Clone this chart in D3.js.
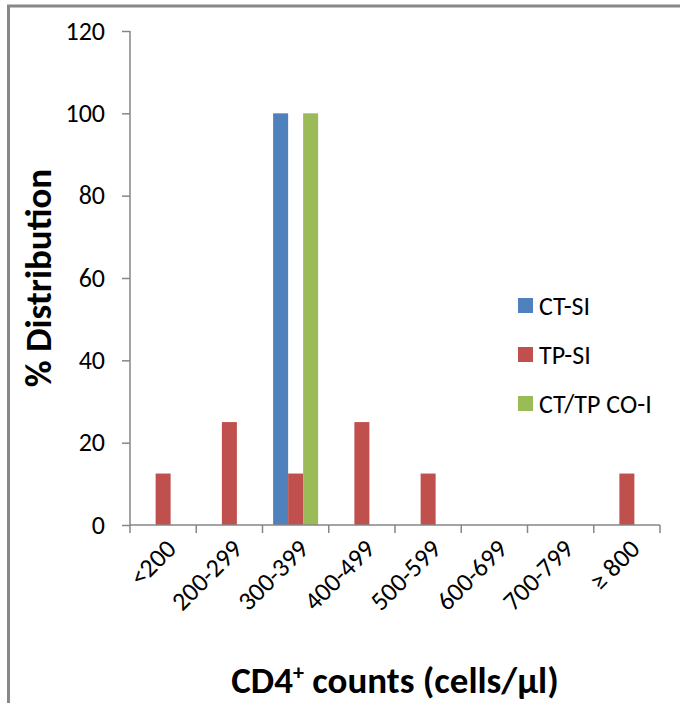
<!DOCTYPE html>
<html>
<head>
<meta charset="utf-8">
<script src="https://cdn.jsdelivr.net/npm/d3@7/dist/d3.min.js"></script>
<style>
  html, body { margin: 0; padding: 0; background: #fff; }
  svg { display: block; }
  text { font-family: Carlito, Calibri, "Open Sans", sans-serif; fill: #000; }
</style>
</head>
<body>
<svg id="chart" width="680" height="703"></svg>
<script>
const categories = ["<200", "200-299", "300-399", "400-499", "500-599", "600-699", "700-799", "\u2265 800"];
const seriesNames = ["CT-SI", "TP-SI", "CT/TP CO-I"];
const ctSI   = [0, 0, 100, 0, 0, 0, 0, 0];
const tpSI   = [12.5, 25, 12.5, 25, 12.5, 0, 0, 12.5];
const coI    = [0, 0, 100, 0, 0, 0, 0, 0];
const yTicks = [0, 20, 40, 60, 80, 100, 120];
const colors = ["#4F81BD", "#C0504D", "#9BBB59"];
const yTitle = "% Distribution";

const seriesValues = [ctSI, tpSI, coI];
const svg = d3.select("#chart");
const axisColor = "#868686";

// frame (cropped: left and top edges only)
svg.append("path").attr("d", "M8.5,703 V6 H680")
  .attr("fill", "none").attr("stroke", "#888").attr("stroke-width", 3);

const pLeft = 130, pRight = 660, pTop = 31, pBottom = 525;

const x0 = d3.scaleBand().domain(categories).range([pLeft, pRight]).paddingInner(0).paddingOuter(0);
const x1 = d3.scaleBand().domain(seriesNames).range([0, x0.bandwidth()]).paddingInner(0).paddingOuter(0.708);
const y = d3.scaleLinear().domain([0, 120]).range([pBottom, pTop]);

// bars
const rows = categories.map((c, i) => ({ cat: c, vals: seriesNames.map((s, j) => ({ s, v: seriesValues[j][i], color: colors[j] })) }));
const g = svg.append("g");
g.selectAll("g.cat").data(rows).join("g")
  .attr("transform", d => `translate(${x0(d.cat)},0)`)
  .selectAll("rect").data(d => d.vals.filter(e => e.v > 0)).join("rect")
  .attr("x", d => x1(d.s))
  .attr("width", x1.bandwidth())
  .attr("y", d => y(d.v))
  .attr("height", d => y(0) - y(d.v))
  .attr("fill", d => d.color);

// y axis
const yAxis = svg.append("g").attr("transform", `translate(${pLeft},0)`)
  .call(d3.axisLeft(y).tickValues(yTicks).tickSize(8).tickPadding(17).tickFormat(d3.format("d")));
yAxis.select(".domain").attr("stroke", axisColor).attr("stroke-width", 1.5).attr("d", `M0,${pTop}V${pBottom}`);
yAxis.selectAll(".tick line").attr("stroke", axisColor).attr("stroke-width", 1.5);
yAxis.selectAll(".tick text").attr("font-size", 26).attr("fill", "#000")
  .style("font-family", "Carlito, Calibri, 'Open Sans', sans-serif");

// x axis baseline + ticks at band boundaries
const bounds = categories.map(c => x0(c)).concat([pRight]);
const xAxis = svg.append("g");
xAxis.append("line").attr("x1", pLeft).attr("x2", pRight).attr("y1", y(0)).attr("y2", y(0))
  .attr("stroke", axisColor).attr("stroke-width", 1.5);
xAxis.selectAll("line.tk").data(bounds).join("line").attr("class", "tk")
  .attr("x1", d => d).attr("x2", d => d).attr("y1", y(0)).attr("y2", y(0) + 8)
  .attr("stroke", axisColor).attr("stroke-width", 1.5);
xAxis.selectAll("text.lbl").data(categories).join("text").attr("class", "lbl")
  .attr("transform", d => `translate(${x0(d) + x0.bandwidth() / 2 + 8},${y(0) + 19}) rotate(-45)`)
  .attr("text-anchor", "end")
  .attr("dy", "0.35em")
  .attr("font-size", 26)
  .text(d => d);

// axis titles
svg.append("text")
  .attr("transform", `translate(38,${(pTop + pBottom) / 2}) rotate(-90)`)
  .attr("text-anchor", "middle").attr("dy", "0.35em")
  .attr("font-size", 37).attr("font-weight", "bold")
  .text(yTitle);

const xt = svg.append("text")
  .attr("x", (pLeft + pRight) / 2).attr("y", 693)
  .attr("text-anchor", "middle")
  .attr("font-size", 37).attr("font-weight", "bold");
xt.append("tspan").text("CD4");
xt.append("tspan").attr("font-size", 22).attr("dy", -13).text("+");
xt.append("tspan").attr("dy", 13).text(" counts (cells/\u00b5l)");

// legend
const lg = svg.append("g").selectAll("g").data(seriesNames).join("g")
  .attr("transform", (d, i) => `translate(518,${298 + i * 49})`);
lg.append("rect").attr("width", 15).attr("height", 15).attr("fill", (d, i) => colors[i]);
lg.append("text").attr("x", 21).attr("y", 7.5).attr("dy", "0.36em").attr("font-size", 26).text(d => d);
</script>
</body>
</html>
